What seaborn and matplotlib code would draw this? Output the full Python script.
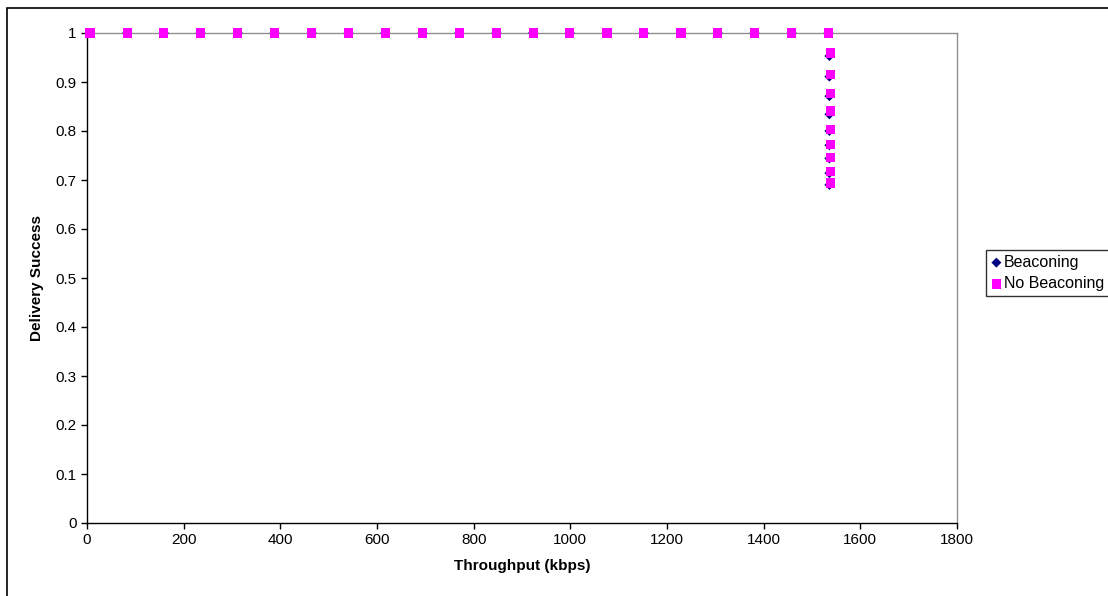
import numpy as np
import pandas as pd
import matplotlib
matplotlib.use("Agg")
import matplotlib.pyplot as plt
import seaborn as sns
from matplotlib.patches import Rectangle

sns.set_style("ticks")
plt.rcParams['font.family'] = ['Liberation Sans', 'DejaVu Sans']
plt.rcParams['text.color'] = 'black'
plt.rcParams['axes.labelcolor'] = 'black'
plt.rcParams['xtick.color'] = 'black'
plt.rcParams['ytick.color'] = 'black'

# данные
top_x = [6, 83, 159, 235, 312, 388, 465, 541, 617, 694, 770,
         847, 923, 999, 1076, 1152, 1229, 1305, 1381, 1458, 1534]
beacon_tail_y = [0.953, 0.911, 0.871, 0.834, 0.800, 0.771, 0.744, 0.714, 0.690]
nobeacon_tail_y = [0.959, 0.916, 0.877, 0.841, 0.803, 0.773, 0.746, 0.718, 0.694]
beacon_tail_x = 1536
nobeacon_tail_x = 1539

beacon_x = top_x + [beacon_tail_x] * len(beacon_tail_y)
beacon_y = [1.0] * len(top_x) + beacon_tail_y
nobeacon_x = top_x + [nobeacon_tail_x] * len(nobeacon_tail_y)
nobeacon_y = [1.0] * len(top_x) + nobeacon_tail_y

df_b = pd.DataFrame({'x': beacon_x, 'y': beacon_y})
df_n = pd.DataFrame({'x': nobeacon_x, 'y': nobeacon_y})

W, H = 1108, 596
fig = plt.figure(figsize=(W / 100, H / 100), dpi=100)
ax = fig.add_axes([87 / W, 1 - 523 / H, (957 - 87) / W, (523 - 33) / H])

sns.scatterplot(data=df_b, x='x', y='y', ax=ax, marker='D', color='#000080',
                s=26, edgecolor='none', label='Beaconing', zorder=3, clip_on=False)
sns.scatterplot(data=df_n, x='x', y='y', ax=ax, marker='s', color='#FF00FF',
                s=44, edgecolor='none', label='No Beaconing', zorder=4, clip_on=False)

ax.set_xlim(0, 1800)
ax.set_ylim(0, 1)
ax.set_xticks(np.arange(0, 1801, 200))
ax.set_yticks(np.round(np.arange(0, 1.01, 0.1), 1))
ax.set_yticklabels(['0', '0.1', '0.2', '0.3', '0.4', '0.5', '0.6', '0.7', '0.8', '0.9', '1'])
ax.tick_params(axis='both', labelsize=11, direction='out', length=4, width=1, color='black')
ax.set_xlabel('Throughput (kbps)', fontsize=11, fontweight='bold', labelpad=8)
ax.set_ylabel('Delivery Success', fontsize=11, fontweight='bold', labelpad=8)

for side in ['left', 'bottom']:
    ax.spines[side].set_color('black')
    ax.spines[side].set_linewidth(1)
for side in ['top', 'right']:
    ax.spines[side].set_visible(True)
    ax.spines[side].set_color('#909090')
    ax.spines[side].set_linewidth(1)

leg = ax.legend(loc='upper left', bbox_to_anchor=(986 / W, 1 - 250 / H),
                bbox_transform=fig.transFigure, fontsize=11.5, frameon=True,
                fancybox=False, borderpad=0.3, handletextpad=0.1,
                handlelength=0.7, labelspacing=0.4, borderaxespad=0)
leg.get_frame().set_edgecolor('black')
leg.get_frame().set_linewidth(1)

# внешняя рамка области диаграммы
fig.patches.append(Rectangle((7 / W, -0.1), 1.2, 1 - 8 / H + 0.1,
                             transform=fig.transFigure, fill=False,
                             edgecolor='black', linewidth=1.2))

fig.savefig('out.png', dpi=100)
